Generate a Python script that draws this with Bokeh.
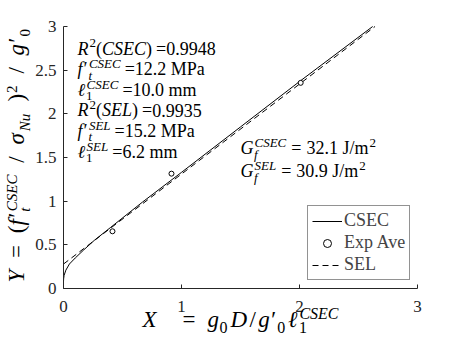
import math
from bokeh.plotting import figure
from bokeh.models import Range1d, FixedTicker, Label, Legend, LegendItem
from bokeh.embed import file_html
from bokeh.resources import INLINE

# ---------------- data ----------------
csec_x = [0.0, 0.001, 0.005, 0.02, 0.05, 0.10, 0.17, 0.26, 0.40, 0.67, 1.0, 1.5, 2.0, 2.62]
csec_y = [0.08, 0.11, 0.15, 0.21, 0.28, 0.35, 0.44, 0.55, 0.70, 0.99, 1.33, 1.85, 2.37, 3.0]
sel_x = [0.0, 2.64]
sel_y = [0.28, 3.0]
exp_x = [0.415, 0.915, 2.01]
exp_y = [0.655, 1.315, 2.355]
x_ticks = [0, 1, 2, 3]
x_tick_labels = ["0", "1", "2", "3"]
y_ticks = [0, 0.5, 1, 1.5, 2, 2.5, 3]
y_tick_labels = ["0", "0.5", "1", "1.5", "2", "2.5", "3"]
legend_labels = ["CSEC", "Exp Ave", "SEL"]

FONT = "Liberation Serif"
AX = "#262626"

W, H = 461, 346
# page pixel positions of the data box (0..3 x 0..3)
PX0, PX3 = 63.0, 417.0
PY0, PY3 = 288.0, 26.0
KX = (PX3 - PX0) / 3.0
KY = (PY0 - PY3) / 3.0

p = figure(width=W, height=H,
           x_range=Range1d(-PX0 / KX, (W - PX0) / KX),
           y_range=Range1d(-(H - PY0) / KY, PY0 / KY),
           output_backend="svg", toolbar_location=None,
           min_border_left=0, min_border_right=0, min_border_top=0, min_border_bottom=0)
p.outline_line_color = None
p.grid.visible = False
p.background_fill_color = "white"
p.border_fill_color = "white"

p.xaxis.ticker = FixedTicker(ticks=x_ticks)
p.yaxis.ticker = FixedTicker(ticks=y_ticks)
p.xaxis.major_label_overrides = {float(t): s for t, s in zip(x_ticks, x_tick_labels)}
p.yaxis.major_label_overrides = {float(t): s for t, s in zip(y_ticks, y_tick_labels)}
p.xaxis.fixed_location = 0
p.yaxis.fixed_location = 0
p.xaxis.bounds = (0, 3)
p.yaxis.bounds = (0, 3)
p.axis.axis_line_color = AX
p.axis.major_tick_line_color = AX
p.axis.major_tick_in = 4
p.axis.major_tick_out = 0
p.axis.minor_tick_line_color = None
p.axis.major_label_text_font = FONT
p.axis.major_label_text_font_size = "17px"
p.axis.major_label_text_color = AX
p.xaxis.major_label_standoff = 12
p.yaxis.major_label_standoff = 7

r_csec = p.line(csec_x, csec_y, line_color="black", line_width=1)
r_sel = p.line(sel_x, sel_y, line_color="black", line_width=1, line_dash="6 4")
r_exp = p.scatter(exp_x, exp_y, marker="circle", size=5, fill_color="white",
                  line_color="black", line_width=1)

legend = Legend(items=[LegendItem(label=legend_labels[0], renderers=[r_csec]),
                       LegendItem(label=legend_labels[1], renderers=[r_exp]),
                       LegendItem(label=legend_labels[2], renderers=[r_sel])],
                location=(307, H - 280), margin=0, padding=4, spacing=1,
                glyph_width=30, glyph_height=20, label_height=20, label_standoff=2,
                label_text_font=FONT, label_text_font_size="18px",
                border_line_color=AX, border_line_width=1,
                background_fill_color="white", background_fill_alpha=1)
p.add_layout(legend)

# ---------------- text helpers ----------------
W_REG = {' ': .25, '(': .333, ')': .333, '=': .564, '.': .25, '/': .278, 'M': .889, 'P': .556,
         'a': .444, 'm': .778, 'J': .389, 'C': .667, 'S': .556, 'E': .611, 'L': .611, 'x': .5,
         'p': .5, 'v': .5, 'e': .444, 'A': .722, '′': .30, 'σ': .55}
W_IT = {'R': .611, 'C': .667, 'S': .5, 'E': .611, 'L': .556, 'f': .278, 't': .278, 'G': .722,
        'X': .611, 'Y': .556, 'D': .722, 'g': .5, 'N': .667, 'u': .5, 'ℓ': .45, 'σ': .55,
        '′': .30, '(': .333, ')': .333}


def tw(s, size, italic):
    tab = W_IT if italic else W_REG
    return sum(tab.get(c, .5) for c in s) * size


def dxp(px):
    return (px - PX0) / KX


def dyp(py):
    return (PY0 - py) / KY


def place(t, along, perp, size, italic, ox, oy, rot):
    perp = perp - 0.33 * size  # centre of capitals above the baseline
    if rot:
        px, py = ox + perp, oy - along
    else:
        px, py = ox + along, oy + perp
    p.add_layout(Label(x=dxp(px), y=dyp(py), text=t, angle=math.pi / 2 if rot else 0.0,
                       text_font=FONT, text_font_size=f"{size}px",
                       text_font_style="italic" if italic else "normal",
                       text_align="left", text_baseline="middle", text_color="black"))


def mathline(tokens, ox, oy, size, target=None, rot=False, ss=None, raise_=0.40):
    ss = ss or round(size * 0.7)
    widths = []
    for tok in tokens:
        if tok[0] == "m":
            widths.append(tw(tok[1], size, tok[2]))
        elif tok[0] in ("sp", "fx"):
            widths.append(tok[1])
        else:
            _, sup, sub, isup, isub = tok
            w = 0
            if sup:
                w = max(w, tw(sup, ss, isup))
            if sub:
                w = max(w, tw(sub, ss, isub))
            widths.append(w + 1)
    total = sum(widths)
    nfx = sum(1 for t in tokens if t[0] == "fx")
    if target and nfx:
        extra = (target - total) / nfx
        widths = [w + extra if t[0] == "fx" else w for t, w in zip(tokens, widths)]
    elif target:
        widths = [w * target / total for w in widths]
    pos = 0.0
    for tok, w in zip(tokens, widths):
        if tok[0] == "m":
            place(tok[1], pos, 0, size, tok[2], ox, oy, rot)
        elif tok[0] == "ss":
            _, sup, sub, isup, isub = tok
            if sup:
                place(sup, pos + 1, -size * raise_, ss, isup, ox, oy, rot)
            if sub:
                place(sub, pos + 0.5, size * 0.24, ss, isub, ox, oy, rot)
        pos += w


A = 18
base = 54.0
step = 20.6
x0 = 77
mathline([("m", "R", True), ("ss", "2", None, False, False), ("m", "(", False), ("m", "CSEC", True),
          ("m", ")", False), ("sp", 4), ("m", "=", False), ("m", "0.9948", False)], x0, base, A)
mathline([("m", "f′", True), ("ss", "CSEC", "t", True, True), ("sp", 4), ("m", "=", False),
          ("m", "12.2 MPa", False)], x0, base + step, A)
mathline([("m", "ℓ", True), ("ss", "CSEC", "1", True, False), ("sp", 4), ("m", "=", False),
          ("m", "10.0 mm", False)], x0, base + 2 * step, A)
mathline([("m", "R", True), ("ss", "2", None, False, False), ("m", "(", False), ("m", "SEL", True),
          ("m", ")", False), ("sp", 4), ("m", "=", False), ("m", "0.9935", False)], x0, base + 3 * step, A)
mathline([("m", "f′", True), ("ss", "SEL", "t", True, True), ("sp", 4), ("m", "=", False),
          ("m", "15.2 MPa", False)], x0, base + 4 * step, A)
mathline([("m", "ℓ", True), ("ss", "SEL", "1", True, False), ("sp", 4), ("m", "=", False),
          ("m", "6.2 mm", False)], x0, base + 5 * step, A)

mathline([("m", "G", True), ("ss", "CSEC", "f", True, True), ("sp", 5), ("m", "=", False),
          ("sp", 5), ("m", "32.1 J/m", False), ("ss", "2", None, False, False)], 240, 153.5, A)
mathline([("m", "G", True), ("ss", "SEL", "f", True, True), ("sp", 5), ("m", "=", False),
          ("sp", 5), ("m", "30.9 J/m", False), ("ss", "2", None, False, False)], 240, 176.5, A)

L = 23
mathline([("m", "X", True), ("sp", 26), ("m", "=", False), ("sp", 12), ("m", "g", True),
          ("ss", None, "0", False, False), ("fx", 0), ("m", "D", True), ("fx", 0), ("m", "/", False),
          ("fx", 0), ("m", "g′", True), ("ss", None, "0", False, False), ("fx", 0), ("m", "ℓ", True),
          ("ss", "CSEC", "1", True, False)], 142, 327, L, 196)
mathline([("m", "Y", True), ("fx", 0), ("m", "=", False), ("fx", 0), ("m", "(", False),
          ("m", "f′", True), ("ss", "CSEC", "t", True, True), ("fx", 0), ("m", "/", False), ("fx", 0),
          ("m", "σ", True), ("ss", None, "Nu", False, True), ("fx", 0), ("m", ")", False),
          ("ss", "2", None, False, False), ("fx", 0), ("m", "/", False), ("fx", 0), ("m", "g′", True),
          ("ss", None, "0", False, False)],
         24, 282, 23, 254, rot=True, ss=15, raise_=0.34)

open("out.html", "w").write(file_html(p, INLINE))
